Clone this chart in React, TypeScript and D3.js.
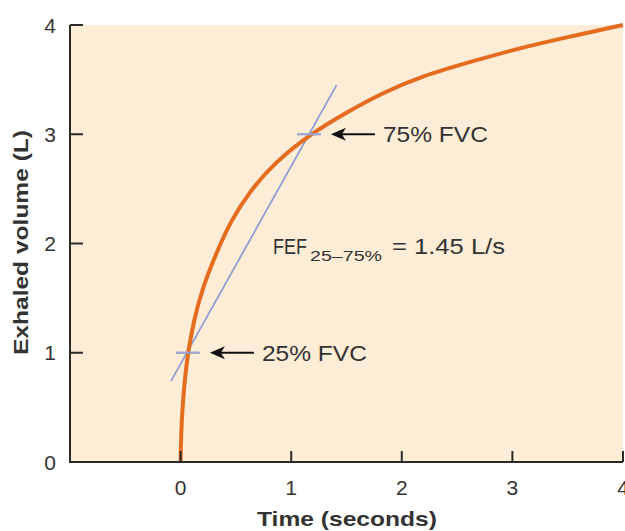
import React from "react";
import * as d3 from "d3";

const W = 625;
const H = 531;

// Curve of exhaled volume vs time
const curveTimes = [0, 0.004, 0.02, 0.04, 0.066, 0.12, 0.2, 0.326, 0.45, 0.627, 0.85, 1.17, 1.5, 1.83, 2.17, 2.68, 3.07, 3.5, 4.0];
const curveVolumes = [0, 0.25, 0.55, 0.77, 1.0, 1.3, 1.6, 1.92, 2.2, 2.48, 2.74, 3.0, 3.2, 3.38, 3.53, 3.68, 3.79, 3.89, 4.0];

// FEF 25-75% secant line endpoints
const secantTimes = [-0.087, 1.41];
const secantVolumes = [0.74, 3.45];

// marker points (25% FVC, 75% FVC)
const markerTimes = [0.066, 1.16];
const markerVolumes = [1, 3];
const markerLabels = ["25% FVC", "75% FVC"];

const xTicks = [0, 1, 2, 3, 4];
const yTicks = [0, 1, 2, 3, 4];

const xDomain = [-1, 4];
const yDomain = [0, 4];

export default function App() {
  const left = 70;
  const right = 623;
  const top = 25;
  const bottom = 462;
  const x = d3.scaleLinear().domain(xDomain).range([left, right]);
  const y = d3.scaleLinear().domain(yDomain).range([bottom, top]);

  const pts: [number, number][] = curveTimes.map((t, i) => [t, curveVolumes[i]]);
  const line = d3
    .line<[number, number]>()
    .x((d) => x(d[0]))
    .y((d) => y(d[1]))
    .curve(d3.curveBasis);

  const textColor = "#333";
  const font = "Liberation Sans, Arial, sans-serif";

  return (
    <svg
      width={W}
      height={H}
      style={{ position: "absolute", left: 0, top: 0, background: "#fff" }}
      fontFamily={font}
    >
      <rect x={left} y={top} width={right - left} height={bottom - top} fill="#fdedd6" />
      {/* secant line */}
      <line
        x1={x(secantTimes[0])}
        y1={y(secantVolumes[0])}
        x2={x(secantTimes[1])}
        y2={y(secantVolumes[1])}
        stroke="#8f9fd2"
        strokeWidth={1.8}
      />
      {/* curve */}
      <path d={line(pts) || ""} fill="none" stroke="#e56b1f" strokeWidth={4} />
      {/* markers */}
      {markerTimes.map((t, i) => (
        <line
          key={"m" + i}
          x1={x(t) - 12}
          x2={x(t) + 12}
          y1={y(markerVolumes[i])}
          y2={y(markerVolumes[i])}
          stroke="#97a3cf"
          strokeWidth={2.5}
          opacity={0.9}
        />
      ))}
      {/* arrows + labels */}
      {markerTimes.map((t, i) => {
        const hx = x(t) + 22;
        const yy = y(markerVolumes[i]);
        const tx = hx + 44;
        return (
          <g key={"a" + i}>
            <line x1={hx + 10} x2={tx} y1={yy} y2={yy} stroke="#111" strokeWidth={2} />
            <path d={`M${hx},${yy} L${hx + 15},${yy - 6.5} L${hx + 11},${yy} L${hx + 15},${yy + 6.5} Z`} fill="#111" />
            <text
              x={tx + 8}
              y={yy + 8}
              fontSize={22}
              fill={textColor}
              textLength={105}
              lengthAdjust="spacingAndGlyphs"
            >
              {markerLabels[i]}
            </text>
          </g>
        );
      })}
      {/* FEF annotation */}
      <text x={273} y={254} fontSize={22} fill={textColor} textLength={34} lengthAdjust="spacingAndGlyphs">
        FEF
      </text>
      <text x={310} y={261} fontSize={15} fill={textColor} textLength={72} lengthAdjust="spacingAndGlyphs">
        25–75%
      </text>
      <text x={392} y={254} fontSize={22} fill={textColor} textLength={113} lengthAdjust="spacingAndGlyphs">
        = 1.45 L/s
      </text>
      {/* axes */}
      <line x1={left - 1} x2={right} y1={bottom} y2={bottom} stroke="#2a2a2a" strokeWidth={2} />
      <line x1={left} x2={left} y1={top} y2={bottom} stroke="#2a2a2a" strokeWidth={2} />
      {yTicks.map((v) => (
        <g key={"y" + v}>
          <line x1={left} x2={left + 13} y1={y(v)} y2={y(v)} stroke="#2a2a2a" strokeWidth={2} />
          <text x={50} y={y(v) + 7.5} fontSize={21} textAnchor="middle" fill={textColor}>
            {v}
          </text>
        </g>
      ))}
      {xTicks.map((v) => (
        <g key={"x" + v}>
          <line x1={x(v)} x2={x(v)} y1={bottom} y2={bottom - 11} stroke="#2a2a2a" strokeWidth={2} />
          <text x={x(v)} y={495} fontSize={21} textAnchor="middle" fill={textColor}>
            {v}
          </text>
        </g>
      ))}
      <text
        x={257}
        y={526}
        fontSize={21}
        fontWeight="bold"
        fill={textColor}
        textLength={180}
        lengthAdjust="spacingAndGlyphs"
      >
        Time (seconds)
      </text>
      <text
        transform={`translate(27.5,355) rotate(-90)`}
        fontSize={21}
        fontWeight="bold"
        fill={textColor}
        textLength={225}
        lengthAdjust="spacingAndGlyphs"
      >
        Exhaled volume (L)
      </text>
    </svg>
  );
}
